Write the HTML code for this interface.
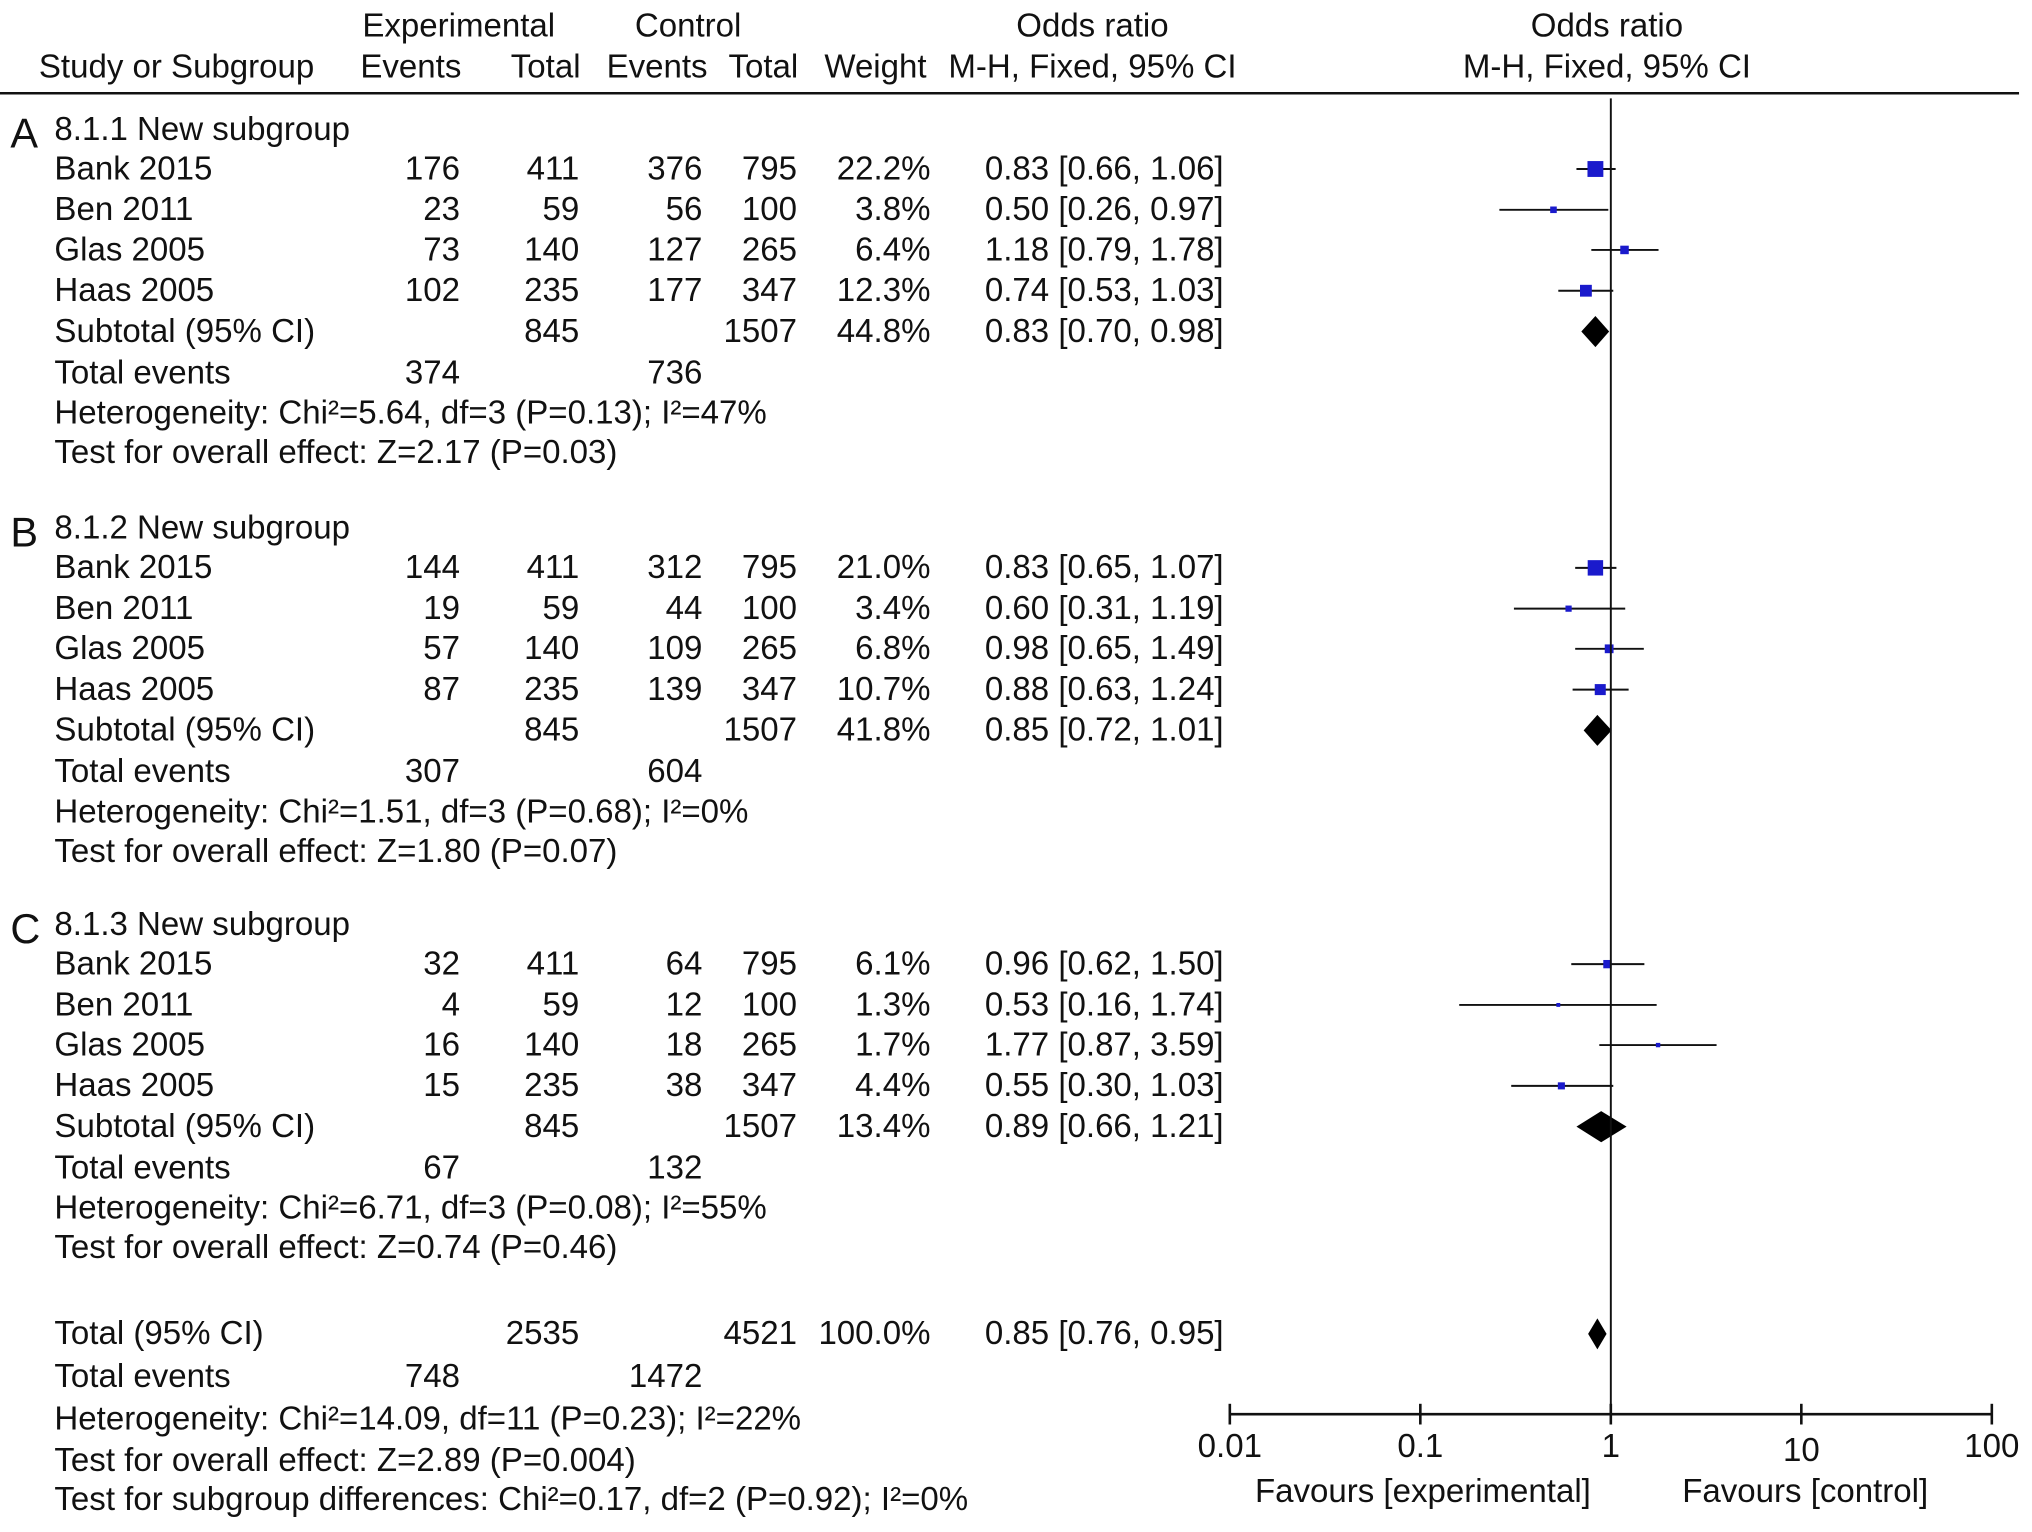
<!DOCTYPE html>
<html><head><meta charset="utf-8"><style>
html,body{margin:0;padding:0;background:#fff;}
svg{display:block;}
text{font-family:"Liberation Sans",Arial,sans-serif;font-size:25.5px;fill:#111;}
</style></head><body>
<svg id="chart" width="2032" height="1532" viewBox="0 0 1568 1183" preserveAspectRatio="none" xmlns="http://www.w3.org/2000/svg">
<g>
<text x="354" y="28" text-anchor="middle">Experimental</text>
<text x="531" y="28" text-anchor="middle">Control</text>
<text x="843" y="28" text-anchor="middle">Odds ratio</text>
<text x="1240" y="28" text-anchor="middle">Odds ratio</text>
<text x="30" y="60">Study or Subgroup</text>
<text x="356" y="60" text-anchor="end">Events</text>
<text x="448" y="60" text-anchor="end">Total</text>
<text x="546" y="60" text-anchor="end">Events</text>
<text x="616" y="60" text-anchor="end">Total</text>
<text x="715" y="60" text-anchor="end">Weight</text>
<text x="843" y="60" text-anchor="middle">M-H, Fixed, 95% CI</text>
<text x="1240" y="60" text-anchor="middle">M-H, Fixed, 95% CI</text>
<line x1="0" y1="72" x2="1558" y2="72" stroke="#111" stroke-width="2"/>
</g>
<g id="rows"></g>
<g id="plot"></g>
</svg>
<script>
const studies=["Bank 2015","Ben 2011","Glas 2005","Haas 2005"];
const groupLabels=["8.1.1 New subgroup","8.1.2 New subgroup","8.1.3 New subgroup"];
const panelLetters=["A","B","C"];
const expEvents=[[176,23,73,102],[144,19,57,87],[32,4,16,15]];
const expTotal=[[411,59,140,235],[411,59,140,235],[411,59,140,235]];
const ctrlEvents=[[376,56,127,177],[312,44,109,139],[64,12,18,38]];
const ctrlTotal=[[795,100,265,347],[795,100,265,347],[795,100,265,347]];
const weights=[[22.2,3.8,6.4,12.3],[21.0,3.4,6.8,10.7],[6.1,1.3,1.7,4.4]];
const orVal=[[0.83,0.50,1.18,0.74],[0.83,0.60,0.98,0.88],[0.96,0.53,1.77,0.55]];
const orLo=[[0.66,0.26,0.79,0.53],[0.65,0.31,0.65,0.63],[0.62,0.16,0.87,0.30]];
const orHi=[[1.06,0.97,1.78,1.03],[1.07,1.19,1.49,1.24],[1.50,1.74,3.59,1.03]];
const subWeight=[44.8,41.8,13.4];
const subOr=[0.83,0.85,0.89], subLo=[0.70,0.72,0.66], subHi=[0.98,1.01,1.21];
const subExpTotal=[845,845,845], subCtrlTotal=[1507,1507,1507];
const subExpEvents=[374,307,67], subCtrlEvents=[736,604,132];
const hetText=["Heterogeneity: Chi²=5.64, df=3 (P=0.13); I²=47%","Heterogeneity: Chi²=1.51, df=3 (P=0.68); I²=0%","Heterogeneity: Chi²=6.71, df=3 (P=0.08); I²=55%"];
const testText=["Test for overall effect: Z=2.17 (P=0.03)","Test for overall effect: Z=1.80 (P=0.07)","Test for overall effect: Z=0.74 (P=0.46)"];
const totalOr=0.85, totalLo=0.76, totalHi=0.95;
const tickVals=[0.01,0.1,1,10,100];
const tickLabels=["0.01","0.1","1","10","100"];

const NS="http://www.w3.org/2000/svg";
const xs=v=>1243+147*Math.log10(v);
const rows=document.getElementById('rows'), plot=document.getElementById('plot');
function T(x,y,s,anchor,name,size){const t=document.createElementNS(NS,'text');t.setAttribute('x',x);t.setAttribute('y',y);if(anchor)t.setAttribute('text-anchor',anchor);if(size)t.style.fontSize=size+'px';t.textContent=s;


rows.appendChild(t);return t;}
function E(tag,attrs,name){const e=document.createElementNS(NS,tag);for(const k in attrs)e.setAttribute(k,attrs[k]);


plot.appendChild(e);return e;}
function diamond(v,lo,hi,cy,name){E('polygon',{points:`${xs(lo)},${cy} ${xs(v)},${cy-12} ${xs(hi)},${cy} ${xs(v)},${cy+12}`,fill:'#000'},name);}
const f2=v=>v.toFixed(2);
const groupTop=[100,408,714];
const step=[0,30.5,62,93,124.5,156,188,219,249.5];
for(let g=0;g<3;g++){
  const y0=groupTop[g];
  T(8,y0+14,panelLetters[g],null,'panel-letter',32);
  T(42,y0+8,groupLabels[g],null,'subgroup-title');
  for(let i=0;i<4;i++){
    const cy=y0+step[i+1], by=cy+8;
    T(42,by,studies[i],null,'study-name');
    T(355,by,expEvents[g][i],'end','exp-events');
    T(447,by,expTotal[g][i],'end','exp-total');
    T(542,by,ctrlEvents[g][i],'end','ctrl-events');
    T(615,by,ctrlTotal[g][i],'end','ctrl-total');
    T(718,by,weights[g][i].toFixed(1)+'%','end','weight');
    T(760,by,`${f2(orVal[g][i])} [${f2(orLo[g][i])}, ${f2(orHi[g][i])}]`,null,'odds-ratio-ci');
    E('line',{x1:xs(orLo[g][i]),x2:xs(orHi[g][i]),y1:cy,y2:cy,stroke:'#111','stroke-width':1.5},'ci-line');
    const s=Math.max(3,Math.sqrt(weights[g][i])*2.6);
    E('rect',{x:xs(orVal[g][i])-s/2,y:cy-s/2,width:s,height:s,fill:'#1a1acc'},'study-marker');
  }
  const sy=y0+step[5];
  T(42,sy+8,'Subtotal (95% CI)',null,'subtotal-label');
  T(447,sy+8,subExpTotal[g],'end','subtotal-exp-total');
  T(615,sy+8,subCtrlTotal[g],'end','subtotal-ctrl-total');
  T(718,sy+8,subWeight[g].toFixed(1)+'%','end','subtotal-weight');
  T(760,sy+8,`${f2(subOr[g])} [${f2(subLo[g])}, ${f2(subHi[g])}]`,null,'subtotal-or');
  diamond(subOr[g],subLo[g],subHi[g],sy,'subtotal-diamond');
  const ty=y0+step[6]+8;
  T(42,ty,'Total events',null,'total-events-label');
  T(355,ty,subExpEvents[g],'end','total-exp-events');
  T(542,ty,subCtrlEvents[g],'end','total-ctrl-events');
  T(42,y0+step[7]+8,hetText[g],null,'heterogeneity');
  T(42,y0+step[8]+8,testText[g],null,'overall-effect');
}
T(42,1038,'Total (95% CI)',null,'total-label');
T(447,1038,'2535','end','total-exp-total');
T(615,1038,'4521','end','total-ctrl-total');
T(718,1038,'100.0%','end','total-weight');
T(760,1038,`${f2(totalOr)} [${f2(totalLo)}, ${f2(totalHi)}]`,null,'total-or');
diamond(totalOr,totalLo,totalHi,1030,'total-diamond');
T(42,1071,'Total events',null,'total-events-label');
T(355,1071,'748','end','overall-exp-events');
T(542,1071,'1472','end','overall-ctrl-events');
T(42,1104,'Heterogeneity: Chi²=14.09, df=11 (P=0.23); I²=22%',null,'heterogeneity-total');
T(42,1136,'Test for overall effect: Z=2.89 (P=0.004)',null,'overall-effect-total');
T(42,1166,'Test for subgroup differences: Chi²=0.17, df=2 (P=0.92); I²=0%',null,'subgroup-differences');
E('line',{x1:xs(1),x2:xs(1),y1:76,y2:1092,stroke:'#111','stroke-width':1.5},'null-line');
E('line',{x1:xs(tickVals[0]),x2:xs(tickVals[tickVals.length-1]),y1:1092,y2:1092,stroke:'#111','stroke-width':2},'x-axis');
tickVals.forEach((v,i)=>{
  E('line',{x1:xs(v),x2:xs(v),y1:1084,y2:1100,stroke:'#111','stroke-width':2},'x-tick');
  T(xs(v),1125+(i===3?3:0),tickLabels[i],'middle','x-tick-label');
});
T(1098,1160,'Favours [experimental]','middle','favours-experimental');
T(1393,1160,'Favours [control]','middle','favours-control');
</script>
</body></html>
